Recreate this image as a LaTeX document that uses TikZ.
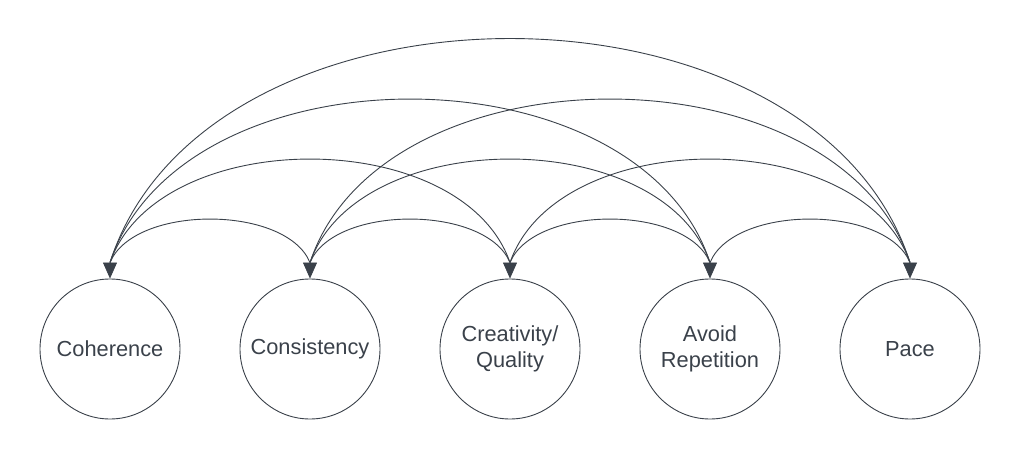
\documentclass[tikz,border=0pt]{standalone}
\usepackage{fontspec}
\setmainfont{Liberation Sans}
\usetikzlibrary{arrows.meta}
\definecolor{ink}{HTML}{3A414A}
\begin{document}
\begin{tikzpicture}[x=1pt,y=-1pt,
  topic/.style={circle,draw=ink,line width=0.9pt,minimum size=140pt,inner sep=0pt,
    text=ink,align=center,font=\fontsize{21.8}{26.5}\selectfont},
  link/.style={draw=ink,line width=0.9pt},
  head/.style={draw=ink,fill=ink,line width=0.6pt,-{Triangle[width=14pt,length=16pt,fill=ink]}}]
\useasboundingbox (0,0) rectangle (1020,460);
\node[topic] (coh) at (110,349) {Coherence};
\node[topic] (con) at (310,349) {Consistency};
\node[topic] (cre) at (510,349) {Creativity/\\Quality};
\node[topic] (avo) at (710,349) {Avoid\\Repetition};
\node[topic] (pac) at (910,349) {Pace};
\foreach \n in {coh,con,cre,avo,pac}{
  \coordinate (\n T) at ([yshift=16pt]\n.north);
}
\foreach \a/\b/\d/\k in {coh/con/24/58, con/cre/24/58, cre/avo/24/58, avo/pac/24/58,
  coh/cre/48/138, con/avo/48/138, cre/pac/48/138,
  coh/avo/72/218, con/pac/72/218, coh/pac/96/298.7}{
  \draw[link] (\a T) .. controls +(\d,-\k) and +(-\d,-\k) .. (\b T);
}
\foreach \n in {coh,con,cre,avo,pac}{
  \draw[head] (\n T) -- (\n.north);
}
\end{tikzpicture}
\end{document}
